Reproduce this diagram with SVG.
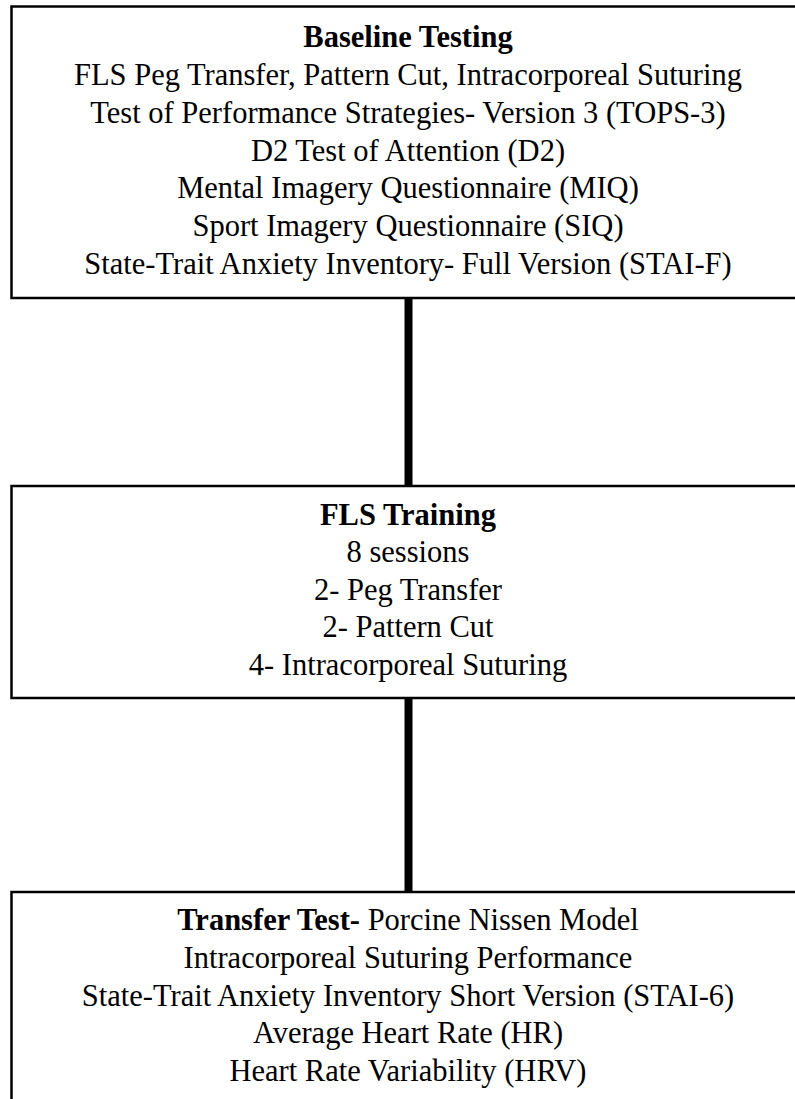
<svg xmlns="http://www.w3.org/2000/svg" width="795" height="1099" viewBox="0 0 795 1099">
<style>
.box{fill:#fff;stroke:#000;stroke-width:2.5}
.t{font-family:"Liberation Serif","Times New Roman",serif;font-size:30.5px;fill:#000;text-anchor:middle}
.b{font-weight:bold}
.conn{stroke:#000;stroke-width:8;fill:none}
</style>
<rect width="795" height="1099" fill="#fff"/>
<g id="connectors">
<line class="conn" x1="408.5" y1="298" x2="408.5" y2="486"/>
<line class="conn" x1="408.5" y1="698" x2="408.5" y2="892"/>
</g>
<g id="baseline">
<rect class="box" x="11.5" y="6.5" width="820" height="291.5"/>
<text class="t b" x="408" y="47">Baseline Testing</text>
<text class="t" x="408" y="85">FLS Peg Transfer, Pattern Cut, Intracorporeal Suturing</text>
<text class="t" x="408" y="123">Test of Performance Strategies- Version 3 (TOPS-3)</text>
<text class="t" x="408" y="161">D2 Test of Attention (D2)</text>
<text class="t" x="408" y="198">Mental Imagery Questionnaire (MIQ)</text>
<text class="t" x="408" y="236">Sport Imagery Questionnaire (SIQ)</text>
<text class="t" x="408" y="274">State-Trait Anxiety Inventory- Full Version (STAI-F)</text>
</g>
<g id="training">
<rect class="box" x="11.5" y="486" width="820" height="212"/>
<text class="t b" x="408" y="525">FLS Training</text>
<text class="t" x="408" y="562">8 sessions</text>
<text class="t" x="408" y="600">2- Peg Transfer</text>
<text class="t" x="408" y="637">2- Pattern Cut</text>
<text class="t" x="408" y="675">4- Intracorporeal Suturing</text>
</g>
<g id="transfer">
<rect class="box" x="11.5" y="892" width="820" height="300"/>
<text class="t" x="408" y="930"><tspan class="b">Transfer Test-</tspan> Porcine Nissen Model</text>
<text class="t" x="408" y="968">Intracorporeal Suturing Performance</text>
<text class="t" x="408" y="1006">State-Trait Anxiety Inventory Short Version (STAI-6)</text>
<text class="t" x="408" y="1043">Average Heart Rate (HR)</text>
<text class="t" x="408" y="1081">Heart Rate Variability (HRV)</text>
</g>
</svg>
